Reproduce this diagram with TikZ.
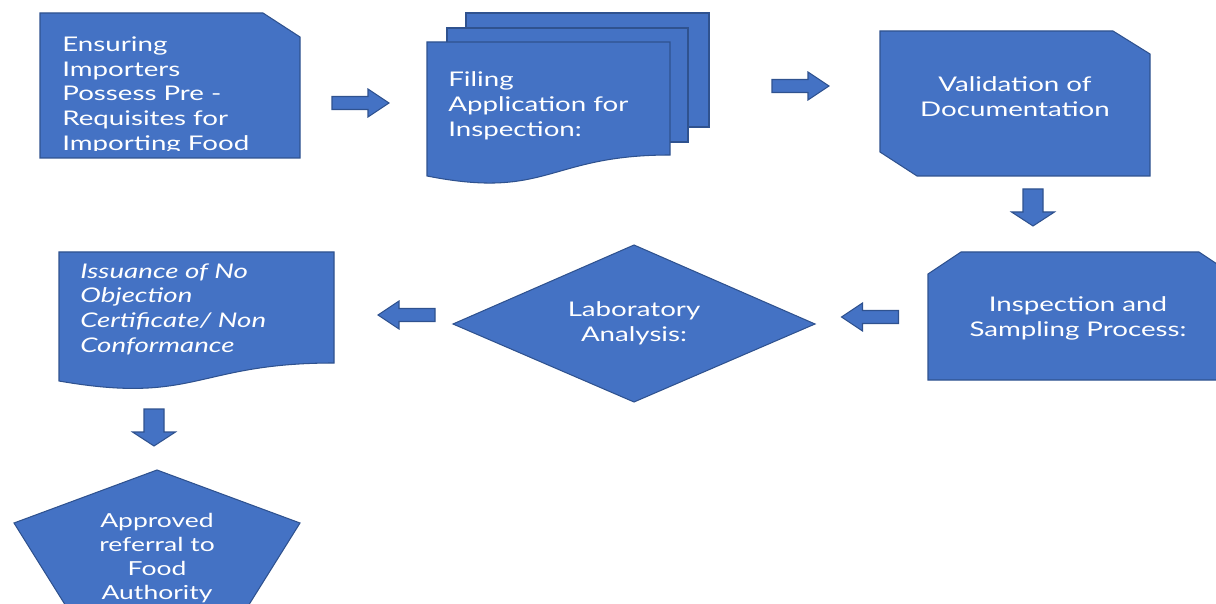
\documentclass[tikz,border=0pt]{standalone}
\usepackage{fontspec}
\setmainfont[FakeStretch=1.37]{Lato}
\definecolor{flowblue}{HTML}{4472C4}
\definecolor{flowedge}{HTML}{2F528F}
\tikzset{
  flow/.style={fill=flowblue, draw=flowedge, line width=0.6pt},
  steptext/.style={text=white, inner sep=0pt, font=\fontsize{11.5}{14.2}\selectfont},
  pics/rightarrow/.style={code={
    \draw[flow] (-28.5,-6.5) -- (7.5,-6.5) -- (7.5,-14) -- (28.5,0) -- (7.5,14) -- (7.5,6.5) -- (-28.5,6.5) -- cycle;}},
  pics/downarrow/.style={code={
    \draw[flow] (-10,-18.5) -- (10,-18.5) -- (10,4.5) -- (21.5,4.5) -- (0,18.5) -- (-21.5,4.5) -- (-10,4.5) -- cycle;}}
}
\begin{document}
\begin{tikzpicture}[x=0.02cm, y=-0.02cm]
    \useasboundingbox (0,0) rectangle (1216,604);
    \clip (0,0) rectangle (1216,604);

    % Shapes
    \draw[flow] (40,13) -- (263,13) -- (300,37) -- (300,158) -- (40,158) -- cycle;
    \draw[flow] (466,13) rectangle (709,127);
    \draw[flow] (447,28) rectangle (688,142);
    \draw[flow] (427,42) -- (670,42) -- (670,155) .. controls (548,155) and (548,200) .. (427,176) -- cycle;
    \draw[flow] (880,31) -- (1113,31) -- (1150,54) -- (1150,176) -- (917,176) -- (880,152) -- cycle;
    \draw[flow] (961,252) -- (1199,252) -- (1232,274) -- (1232,380) -- (928,380) -- (928,274) -- cycle;
    \draw[flow] (453,324) -- (634,245) -- (815,324) -- (634,402) -- cycle;
    \draw[flow] (59,252) -- (334,252) -- (334,363) .. controls (196,363) and (196,405) .. (59,381) -- cycle;
    \draw[flow] (157,470) -- (300,523) -- (245,611) -- (69,611) -- (14,523) -- cycle;

    % Texts
    \begin{scope}
        \clip (40,13) rectangle (300,151);
        \node[steptext, anchor=north west, align=left] (ensure) at (62,36)
            {Ensuring\\Importers\\Possess Pre -\\Requisites for\\Importing Food};
    \end{scope}
    \node[steptext, anchor=north west, align=left] (filing) at (448,71)
        {Filing\\Application for\\Inspection:};
    \node[steptext, align=center] (valid) at (1015,97) {Validation of\\Documentation};
    \node[steptext, align=center] (inspect) at (1078,318) {Inspection and\\Sampling Process:};
    \node[steptext, align=center] (lab) at (634,323) {Laboratory\\Analysis:};
    \node[steptext, anchor=north west, align=left, font=\fontsize{11.5}{14.2}\selectfont\itshape] (issue) at (80,263)
        {Issuance of No\\Objection\\Certificate/ Non\\Conformance};
    \node[steptext, anchor=north, align=center, font=\fontsize{11}{13.6}\selectfont] (approve) at (157,513)
        {Approved\\referral to\\Food\\Authority};

    % Block arrows
    \pic at (360.5,103) {rightarrow};
    \pic at (800.5,86) {rightarrow};
    \pic at (1033,207.5) {downarrow};
    \pic[rotate=180] at (870,317) {rightarrow};
    \pic[rotate=180] at (406.5,315) {rightarrow};
    \pic at (154,427.5) {downarrow};
\end{tikzpicture}
\end{document}
